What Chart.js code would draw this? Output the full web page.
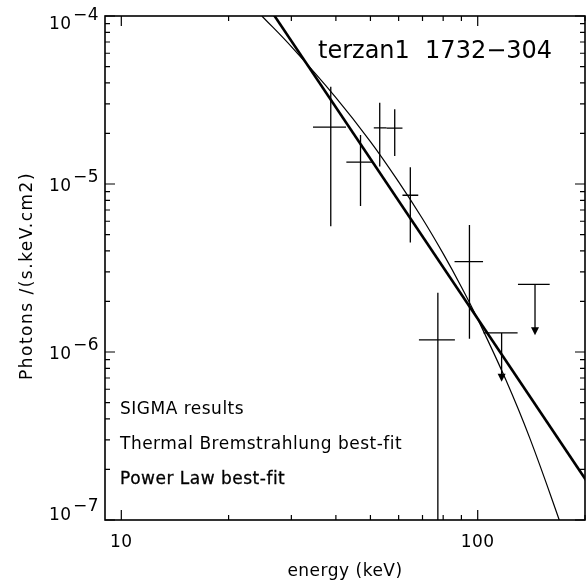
<!DOCTYPE html>
<html>
<head>
<meta charset="utf-8">
<script src="https://cdn.jsdelivr.net/npm/chart.js@4/dist/chart.umd.min.js"></script>
<style>
  html, body { margin: 0; padding: 0; background: #fff; }
  #wrap { position: relative; width: 588px; height: 580px; }
</style>
</head>
<body>
<div id="wrap"><canvas id="spectrum"></canvas></div>
<script>
// SIGMA data points (keV, photons/s/keV/cm2)
const energy   = [38.7, 46.9, 53.1, 58.5, 64.7, 77.3, 94.8];
const energyLo = [34.5, 42.8, 51.1, 55.5, 61.5, 68.4, 86.1];
const energyHi = [42.7, 50.5, 55.5, 61.5, 68.1, 86.3, 103.5];
const flux     = [2.18e-5, 1.35e-5, 2.16e-5, 2.15e-5, 8.57e-6, 1.18e-6, 3.45e-6];
const fluxLo   = [5.6e-6, 7.4e-6, 1.27e-5, 1.47e-5, 4.48e-6, 1e-8, 1.2e-6];
const fluxHi   = [3.79e-5, 1.96e-5, 3.05e-5, 2.79e-5, 1.26e-5, 2.25e-6, 5.7e-6];

// upper limits
const limitEnergy   = [116.7, 144.8];
const limitEnergyLo = [103.8, 129.7];
const limitEnergyHi = [129.4, 159.2];
const limitFlux     = [1.30e-6, 2.53e-6];
const limitArrowTo  = [6.65e-7, 1.26e-6];

// thermal bremsstrahlung best-fit
const bremE    = [24.8, 30, 40, 50, 60, 70, 80, 90, 100, 120, 140, 170, 180];
const bremFlux = [1.0e-4, 6.57e-5, 3.27e-5, 1.79e-5, 1.03e-5, 6.21e-6, 3.85e-6, 2.44e-6, 1.57e-6, 6.81e-7, 3.07e-7, 9.77e-8, 6.76e-8];

// power law best-fit (straight in log-log)
const powerE    = [20, 250];
const powerFlux = [2.56e-4, 8.7e-8];

// axis ticks
const xMajor = [10, 100];
const xMinor = [20, 30, 40, 50, 60, 70, 80, 90, 200];
const yMajor = [1e-4, 1e-5, 1e-6, 1e-7];
const yExp   = [-4, -5, -6, -7];

const FONT = '"DejaVu Sans", sans-serif';

const toPts = (xs, ys) => xs.map((x, i) => ({ x, y: ys[i] }));

const yMinor = [];
[1e-7, 1e-6, 1e-5].forEach(d => {
  for (let k = 2; k <= 9; k++) yMinor.push(d * k);
});

const framePlugin = {
  id: 'frame',
  afterDatasetsDraw(chart) {
    const { ctx, chartArea: a, scales } = chart;
    const sx = scales.x, sy = scales.y;
    ctx.save();
    ctx.strokeStyle = '#000';
    ctx.fillStyle = '#000';

    // error crosses
    ctx.lineWidth = 1.3;
    energy.forEach((e, i) => {
      const px = sx.getPixelForValue(e);
      const py = sy.getPixelForValue(flux[i]);
      const top = sy.getPixelForValue(fluxHi[i]);
      const bot = Math.min(sy.getPixelForValue(fluxLo[i]), a.bottom);
      ctx.beginPath();
      ctx.moveTo(sx.getPixelForValue(energyLo[i]), py);
      ctx.lineTo(sx.getPixelForValue(energyHi[i]), py);
      ctx.moveTo(px, top);
      ctx.lineTo(px, bot);
      ctx.stroke();
    });

    // upper limits
    limitEnergy.forEach((e, i) => {
      const px = sx.getPixelForValue(e);
      const py = sy.getPixelForValue(limitFlux[i]);
      const tip = sy.getPixelForValue(limitArrowTo[i]);
      ctx.beginPath();
      ctx.moveTo(sx.getPixelForValue(limitEnergyLo[i]), py);
      ctx.lineTo(sx.getPixelForValue(limitEnergyHi[i]), py);
      ctx.moveTo(px, py);
      ctx.lineTo(px, tip - 6);
      ctx.stroke();
      ctx.beginPath();
      ctx.moveTo(px - 4, tip - 8);
      ctx.lineTo(px + 4, tip - 8);
      ctx.lineTo(px, tip);
      ctx.closePath();
      ctx.fill();
    });

    // box
    ctx.lineWidth = 1.6;
    ctx.strokeRect(a.left, a.top, a.right - a.left, a.bottom - a.top);

    // inward ticks on all four sides
    ctx.lineWidth = 1.2;
    ctx.beginPath();
    const xt = (v, len) => {
      const p = sx.getPixelForValue(v);
      ctx.moveTo(p, a.bottom); ctx.lineTo(p, a.bottom - len);
      ctx.moveTo(p, a.top); ctx.lineTo(p, a.top + len);
    };
    const yt = (v, len) => {
      const p = sy.getPixelForValue(v);
      ctx.moveTo(a.left, p); ctx.lineTo(a.left + len, p);
      ctx.moveTo(a.right, p); ctx.lineTo(a.right - len, p);
    };
    xMajor.forEach(v => xt(v, 10));
    xMinor.forEach(v => xt(v, 5));
    yMajor.forEach(v => yt(v, 10));
    yMinor.forEach(v => yt(v, 5));
    ctx.stroke();

    // tick labels
    ctx.font = '17px ' + FONT;
    ctx.letterSpacing = '0.5px';
    ctx.textBaseline = 'alphabetic';
    ctx.textAlign = 'center';
    xMajor.forEach(v => {
      ctx.fillText(String(v), sx.getPixelForValue(v), a.bottom + 27);
    });
    yMajor.forEach((v, i) => {
      const p = sy.getPixelForValue(v);
      const base = Math.min(Math.max(p + 7, a.top + 13), a.bottom);
      ctx.textAlign = 'left';
      ctx.fillText('10', 49, base);
      ctx.fillText('\u2212' + String(-yExp[i]), 73, base - 9);
    });

    // axis titles
    ctx.textAlign = 'center';
    ctx.fillText('energy (keV)', (a.left + a.right) / 2, 576);
    ctx.save();
    ctx.translate(32, 276);
    ctx.rotate(-Math.PI / 2);
    ctx.letterSpacing = '1.5px';
    ctx.fillText('Photons /(s.keV.cm2)', 0, 0);
    ctx.restore();

    // title and legend texts
    ctx.textAlign = 'left';
    ctx.font = '24px ' + FONT;
    ctx.letterSpacing = '0px';
    ctx.fillText('terzan1  1732\u2212304', 318, 58);

    ctx.font = '17px ' + FONT;
    ctx.letterSpacing = '0.5px';
    ctx.fillText('SIGMA results', 120, 414);
    ctx.fillText('Thermal Bremstrahlung best-fit', 120, 449);
    ctx.lineWidth = 0.3;
    ctx.fillText('Power Law best-fit', 120, 484);
    ctx.strokeText('Power Law best-fit', 120, 484);
    ctx.restore();
  }
};

new Chart(document.getElementById('spectrum'), {
  type: 'scatter',
  data: {
    datasets: [
      {
        label: 'SIGMA results',
        data: toPts(energy, flux),
        pointRadius: 0,
        showLine: false
      },
      {
        label: 'Thermal Bremstrahlung best-fit',
        data: toPts(bremE, bremFlux),
        showLine: true,
        borderColor: '#000',
        borderWidth: 1.2,
        pointRadius: 0,
        tension: 0.4,
        clip: 0
      },
      {
        label: 'Power Law best-fit',
        data: toPts(powerE, powerFlux),
        showLine: true,
        borderColor: '#000',
        borderWidth: 2.6,
        pointRadius: 0,
        clip: 0
      }
    ]
  },
  options: {
    responsive: true,
    maintainAspectRatio: false,
    animation: false,
    layout: { padding: { left: 105, right: 3, top: 16, bottom: 60 } },
    scales: {
      x: { type: 'logarithmic', min: 9, max: 200, display: false },
      y: { type: 'logarithmic', min: 1e-7, max: 1e-4, display: false }
    },
    plugins: {
      legend: { display: false },
      tooltip: { enabled: false }
    }
  },
  plugins: [framePlugin]
});
</script>
</body>
</html>
